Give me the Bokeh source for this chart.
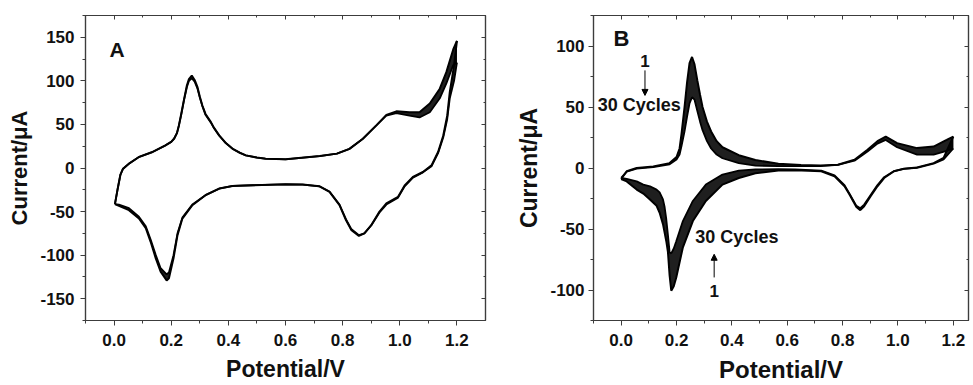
from bokeh.plotting import figure
from bokeh.layouts import row
from bokeh.models import (Range1d, LinearAxis, SingleIntervalTicker, Label, Arrow,
                          NormalHead, NumeralTickFormatter, CustomLabelingPolicy)
from bokeh.embed import file_html
from bokeh.resources import INLINE

# ---------------- Panel A data (potential / V, current / uA) ----------------
a_fwd_pot = [0.003, 0.012, 0.022, 0.031, 0.052, 0.087, 0.134, 0.18, 0.2, 0.21, 0.22, 0.227,
             0.235, 0.245, 0.255, 0.262, 0.272, 0.282, 0.292, 0.3, 0.309, 0.32, 0.339, 0.35,
             0.368, 0.39, 0.415, 0.44, 0.461, 0.5, 0.53, 0.6, 0.72, 0.78, 0.824, 0.871,
             0.918, 0.953, 0.988, 1.034, 1.069, 1.105, 1.14, 1.163, 1.187, 1.2]
a_fwd_first = [-41.5, -25, -8, -1, 5, 12.6, 18.3, 26, 30, 33.6, 40, 48.9, 62, 79, 95, 102,
               106, 101, 92.7, 82, 71.7, 62, 52.6, 46, 37.4, 29, 22, 17.5, 14.5, 12, 10.7,
               10, 13.7, 16.5, 22, 33.6, 48.9, 61, 65, 64, 64, 74, 91, 110, 136, 146]
a_fwd_last = [-41.5, -25, -8, -1, 5, 12.6, 18.3, 26, 30, 33.6, 40, 48.9, 61, 78, 93, 100,
              103, 99, 91, 81, 71, 61, 52, 45.5, 37, 29, 22, 17.5, 14.5, 12, 10.7, 10, 13.7,
              16.5, 22, 33.6, 48.9, 60, 63, 60, 58, 64, 80, 97, 118, 121]
a_rev_pot = [1.2, 1.19, 1.175, 1.166, 1.152, 1.134, 1.111, 1.081, 1.046, 1.017, 0.994, 0.953,
             0.929, 0.9, 0.876, 0.857, 0.83, 0.812, 0.789, 0.754, 0.719, 0.66, 0.6, 0.485,
             0.415, 0.368, 0.321, 0.274, 0.239, 0.222, 0.208, 0.192, 0.184, 0.163, 0.146,
             0.128, 0.111, 0.087, 0.052, 0.017, 0.003]
a_rev_first = [146, 118, 87, 60, 37, 18.3, 3, -4.6, -10.3, -20, -33, -40.7, -50, -65.6, -75,
               -78, -71, -60, -42.7, -27.5, -21, -19, -18.7, -19.8, -20.6, -23.6, -31, -42.7,
               -58, -77, -103.7, -126.5, -129, -119, -103.7, -84.7, -69, -58, -48.4, -43.5,
               -41.5]
a_rev_last = [121, 100, 80, 56, 35, 17, 2, -5, -11, -21, -34, -42, -51, -66, -75, -77, -70,
              -59, -42, -27, -21, -19, -18.7, -19.8, -20.6, -23.6, -31, -42, -57, -75, -100,
              -120, -122, -115, -100, -82, -67, -56, -46, -42, -41.5]

# ---------------- Panel B data ----------------
b_fwd_pot = [0.0, 0.02, 0.056, 0.116, 0.175, 0.2, 0.211, 0.218, 0.229, 0.238, 0.247, 0.256,
             0.265, 0.275, 0.285, 0.294, 0.31, 0.325, 0.345, 0.366, 0.425, 0.485, 0.568,
             0.65, 0.72, 0.783, 0.843, 0.89, 0.926, 0.956, 0.997, 1.069, 1.129, 1.176, 1.2]
b_fwd_first = [-9, -2.7, 0, 1.3, 4, 9, 16, 28, 50, 70, 86, 91, 85, 72, 60, 50, 38, 30, 22,
               17, 10.5, 6.5, 3.5, 2.5, 2, 2.7, 6.8, 15, 22, 25.8, 20.4, 16.3, 17.6, 23, 25.8]
b_fwd_last = [-8, -3, -0.5, 0.8, 3, 7, 11, 18, 30, 42, 53, 58, 56, 47, 38, 31, 22, 16, 11, 8,
              4, 2, 1.5, 1.5, 1.5, 2.5, 6, 13.5, 20, 23, 17, 11, 11, 14, 16]
b_rev_pot = [1.2, 1.165, 1.129, 1.069, 1.021, 0.986, 0.95, 0.926, 0.902, 0.878, 0.864, 0.85,
             0.825, 0.807, 0.771, 0.723, 0.628, 0.568, 0.485, 0.425, 0.366, 0.306, 0.259,
             0.223, 0.199, 0.19, 0.181, 0.175, 0.169, 0.163, 0.157, 0.151, 0.139, 0.128,
             0.104, 0.08, 0.056, 0.02, 0.0]
b_rev_first = [25.8, 8.2, 4, 0.5, -0.6, -2.7, -8.2, -15, -23, -31.3, -34.5, -32, -21.8, -15,
               -6.8, -2.7, -1.8, -2, -4.3, -8.2, -13.6, -27, -43.5, -65, -89.7, -97, -100.6,
               -88, -69, -60, -53, -46, -36.7, -31, -25.8, -21, -17.7, -11, -9]
b_rev_last = [16, 7, 3.5, 0.2, -0.8, -2.5, -7.5, -14, -22, -30, -33, -31, -21, -14, -6, -2.2,
              -1.2, -1, -1.1, -2.2, -5.4, -13.6, -27, -43.5, -60, -66, -70, -69, -55, -42,
              -32, -25.8, -20, -17.7, -15, -13.6, -11, -9, -8]

FONT = "Liberation Sans"
AX_COLOR = "#3c3c3c"
X_LABEL = "Potential/V"
Y_LABEL = "Current/\u03bcA"


def style_main_axis(ax, ticker, fmt, standoff):
    ax.ticker = ticker
    ax.formatter = NumeralTickFormatter(format=fmt)
    ax.axis_line_color = AX_COLOR
    ax.axis_line_width = 1.2
    ax.major_tick_line_color = AX_COLOR
    ax.minor_tick_line_color = AX_COLOR
    ax.major_tick_out = 5
    ax.major_tick_in = 0
    ax.minor_tick_out = 3
    ax.minor_tick_in = 0
    ax.major_label_text_font = FONT
    ax.major_label_text_font_style = "bold"
    ax.major_label_text_font_size = "17px"
    ax.major_label_text_color = "#111111"
    ax.major_label_standoff = standoff
    ax.axis_label_text_font = FONT
    ax.axis_label_text_font_style = "bold"
    ax.axis_label_text_color = "#111111"


def mirror_axis(ticker):
    ax = LinearAxis(ticker=ticker)
    ax.axis_line_color = AX_COLOR
    ax.axis_line_width = 1.2
    ax.major_tick_line_color = AX_COLOR
    ax.minor_tick_line_color = AX_COLOR
    ax.major_tick_in = 4
    ax.major_tick_out = 0
    ax.minor_tick_in = 2
    ax.minor_tick_out = 0
    ax.major_label_policy = CustomLabelingPolicy(code="return []")
    ax.major_label_text_font_size = "1px"
    ax.major_label_standoff = 0
    return ax


def make_panel(width, xr, yr, left, right, y_int, fwd, rev, xlab_size, ylab_size, ystand):
    p = figure(width=width, height=385, x_range=Range1d(*xr), y_range=Range1d(*yr),
               output_backend="svg", toolbar_location=None,
               min_border_left=left, min_border_right=right,
               min_border_top=15, min_border_bottom=63)
    p.xgrid.visible = False
    p.ygrid.visible = False
    p.outline_line_color = AX_COLOR
    p.outline_line_width = 1.2
    p.background_fill_color = "white"
    p.border_fill_color = "white"

    style_main_axis(p.xaxis[0], SingleIntervalTicker(interval=0.2, num_minor_ticks=2), "0.0", 8)
    style_main_axis(p.yaxis[0], SingleIntervalTicker(interval=y_int, num_minor_ticks=2), "0", ystand)
    p.xaxis[0].axis_label = X_LABEL
    p.yaxis[0].axis_label = Y_LABEL
    p.xaxis[0].axis_label_standoff = 7
    p.yaxis[0].axis_label_standoff = 5
    p.xaxis[0].axis_label_text_font_size = xlab_size
    p.yaxis[0].axis_label_text_font_size = ylab_size

    p.add_layout(mirror_axis(SingleIntervalTicker(interval=0.2, num_minor_ticks=2)), "above")
    p.add_layout(mirror_axis(SingleIntervalTicker(interval=y_int, num_minor_ticks=2)), "right")

    for pot, first, last in (fwd, rev):
        p.varea(x=pot, y1=first, y2=last, fill_color="black", fill_alpha=0.88)
        p.line(pot, first, line_color="black", line_width=2)
        p.line(pot, last, line_color="black", line_width=1.8)
    return p


TXT = dict(text_font=FONT, text_font_style="bold", text_color="#111111")

pa = make_panel(490, (-0.1, 1.3), (-175, 175), 85, 5, 50,
                (a_fwd_pot, a_fwd_first, a_fwd_last),
                (a_rev_pot, a_rev_first, a_rev_last), "23px", "22px", 6)
pa.add_layout(Label(x=-0.016, y=135.6, text="A", text_font_size="21px",
                    text_align="left", text_baseline="middle", **TXT))

pb = make_panel(483, (-0.1, 1.255), (-125, 125), 103, 1, 50,
                (b_fwd_pot, b_fwd_first, b_fwd_last),
                (b_rev_pot, b_rev_first, b_rev_last), "24px", "23px", 4)

pb.add_layout(Label(x=-0.028, y=106.3, text="B", text_font_size="22px",
                    text_align="left", text_baseline="middle", **TXT))
pb.add_layout(Label(x=0.086, y=88, text="1", text_font_size="17px",
                    text_align="center", text_baseline="middle", **TXT))
pb.add_layout(Label(x=-0.085, y=51.5, text="30 Cycles", text_font_size="18px",
                    text_align="left", text_baseline="middle", **TXT))
pb.add_layout(Label(x=0.268, y=-56.4, text="30 Cycles", text_font_size="18px",
                    text_align="left", text_baseline="middle", **TXT))
pb.add_layout(Label(x=0.336, y=-100.6, text="1", text_font_size="17px",
                    text_align="center", text_baseline="middle", **TXT))
pb.add_layout(Arrow(end=NormalHead(size=6, fill_color="black", line_color="black"),
                    x_start=0.086, y_start=80, x_end=0.086, y_end=59.5,
                    line_color="black", line_width=1))
pb.add_layout(Arrow(end=NormalHead(size=6, fill_color="black", line_color="black"),
                    x_start=0.336, y_start=-89.7, x_end=0.336, y_end=-70.7,
                    line_color="black", line_width=1))

layout = row(pa, pb)
open("out.html", "w").write(file_html(layout, INLINE))
